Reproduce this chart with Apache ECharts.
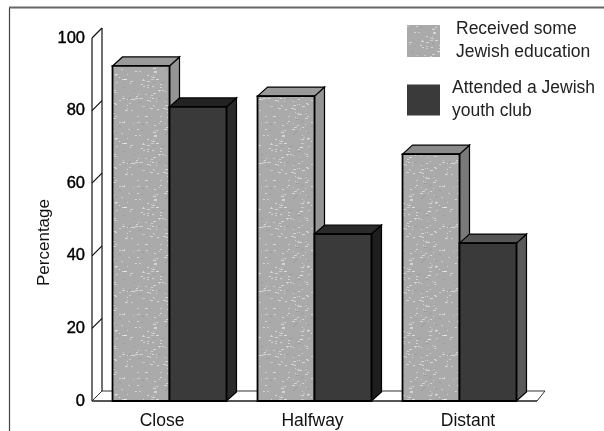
<!DOCTYPE html>
<html><head><meta charset="utf-8">
<style>html,body{margin:0;padding:0;background:#fff}#c{width:604px;height:431px;filter:blur(0.45px)}</style>
<script src="https://cdn.jsdelivr.net/npm/echarts@6/dist/echarts.min.js"></script>
</head><body><div id="c"></div>
<script>
var categories = ['Close', 'Halfway', 'Distant'];
var educationName = 'Received some\nJewish education';
var clubName = 'Attended a Jewish\nyouth club';
var educationValues = [92.3, 84, 68];
var clubValues = [81, 46, 43.5];
var yTicks = [0, 20, 40, 60, 80, 100];

// fixed speckle texture for the light bars (styling only, not data)
function speckle(base) {
  var cv = document.createElement('canvas');
  cv.width = 64; cv.height = 64;
  var g = cv.getContext('2d');
  g.fillStyle = base; g.fillRect(0, 0, 64, 64);
  var s = 12345;
  function r() { s = (s * 1103515 + 12345) % 2147483648; return s / 2147483648; }
  for (var i = 0; i < 150; i++) {
    var v = r();
    g.fillStyle = v < 0.5 ? 'rgba(255,255,255,0.5)' : (v < 0.8 ? 'rgba(225,225,225,0.55)' : 'rgba(140,140,140,0.45)');
    g.fillRect(Math.floor(r() * 64), Math.floor(r() * 64), 1 + Math.floor(r() * 3), 1);
  }
  return cv;
}
var lightPattern = { image: speckle('#aaaaaa'), repeat: 'repeat' };
var DX = 10, DY = 9, BAR = 0.393;
var lightSide = ['#959595', '#959595', '#7a7a7a'];
var darkSide = ['#2a2a2a', '#1e1e1e', '#5a5a5a'];
var darkTop = ['#222222', '#2a2a2a', '#555555'];

function poly(pts, fill, stroke, lw) {
  return { type: 'polygon', shape: { points: pts }, style: { fill: fill, stroke: stroke || '#000', lineWidth: lw === undefined ? 1.2 : lw } };
}
function bar3d(off, front, sideCols, topCols) {
  return function (params, api) {
    var i = api.value(0);
    var top = api.coord([i, api.value(1)]);
    var base = api.coord([i, 0]);
    var w = api.size([1, 0])[0] * BAR;
    var l = top[0] + off * w, r = l + w, t = top[1], b = base[1];
    return { type: 'group', children: [
      poly([[r, t], [r + DX, t - DY], [r + DX, b - DY], [r, b]], sideCols[i]),
      poly([[l, t], [l + DX, t - DY], [r + DX, t - DY], [r, t]], topCols[i]),
      poly([[l, t], [r, t], [r, b], [l, b]], front, '#000', 1.8)
    ] };
  };
}
var chart = echarts.init(document.getElementById('c'), null, { renderer: 'canvas' });
var legendText = { fontFamily: 'Liberation Sans', fontSize: 17.5, lineHeight: 23, color: '#222' };
chart.setOption({
  animation: false,
  backgroundColor: '#fff',
  grid: { left: 97, right: 72, top: 38, bottom: 30 },
  legend: [
    { data: [educationName], orient: 'vertical', left: 402, top: 13, itemWidth: 33, itemHeight: 32, icon: 'rect', selectedMode: false,
      textStyle: Object.assign({}, legendText, { padding: [0, 0, 0, 11] }) },
    { data: [clubName], orient: 'vertical', left: 402, top: 72, itemWidth: 33, itemHeight: 31, icon: 'rect', selectedMode: false,
      textStyle: Object.assign({}, legendText, { padding: [0, 0, 0, 7] }) }
  ],
  xAxis: { type: 'category', data: [
      { value: categories[0], textStyle: { padding: [0, 15, 0, 0] } },
      { value: categories[1], textStyle: { padding: [0, 4, 0, 0] } },
      { value: categories[2], textStyle: { padding: [0, 0, 0, 17] } }
    ],
    axisLine: { show: false }, axisTick: { show: false },
    axisLabel: { margin: 11, fontFamily: 'Liberation Sans', fontSize: 17.5, color: '#111' } },
  yAxis: { type: 'value', min: 0, max: 100, interval: 20,
    name: 'Percentage', nameLocation: 'middle', nameGap: 44, nameRotate: 90, nameMoveOverlap: false,
    nameTextStyle: { fontFamily: 'Liberation Sans', fontSize: 17, color: '#111', padding: [0, 46, 0, 0] },
    axisLine: { show: false }, axisTick: { show: false }, splitLine: { show: false },
    axisLabel: { margin: 12, fontFamily: 'Liberation Sans', fontSize: 16.5, color: '#000',
      textBorderColor: '#000', textBorderWidth: 0.4 } },
  series: [
    { type: 'custom', silent: true, z: 1, data: yTicks.map(function (v) { return [v]; }),
      encode: { x: -1, y: 0 },
      renderItem: function (params, api) {
        var y = api.coord([0, api.value(0)])[1];
        var cs = params.coordSys;
        var x0 = cs.x - 5, x1 = x0 + DX, right = cs.x + cs.width + 5;
        var kids = [];
        if (api.value(0) === 0) {
          kids.push(poly([[x0, y], [x1, y - DY - 1], [right + DX - 2, y - DY - 1], [right, y]], '#fff', '#333', 1));
          kids.push({ type: 'line', shape: { x1: x0, y1: y, x2: right, y2: y }, style: { stroke: '#555', lineWidth: 2 } });
        } else {
          kids.push({ type: 'line', shape: { x1: x0, y1: y, x2: x1, y2: y - DY - 1 }, style: { stroke: '#111', lineWidth: 1.2 } });
        }
        if (api.value(0) === 100) {
          var b = api.coord([0, 0])[1];
          kids.push({ type: 'line', shape: { x1: x0, y1: y, x2: x0, y2: b }, style: { stroke: '#111', lineWidth: 1.2 } });
          kids.push({ type: 'line', shape: { x1: x1, y1: y - DY - 1, x2: x1, y2: b - DY - 1 }, style: { stroke: '#111', lineWidth: 1.2 } });
        }
        return { type: 'group', children: kids };
      } },
    { type: 'custom', name: educationName, z: 2, silent: true, itemStyle: { color: lightPattern, borderColor: '#777' },
      data: educationValues.map(function (v, i) { return [i, v]; }), encode: { x: 0, y: 1 },
      renderItem: bar3d(-1, lightPattern, lightSide, ['#9a9a9a', '#9a9a9a', '#8a8a8a']) },
    { type: 'custom', name: clubName, z: 3, silent: true, itemStyle: { color: '#3a3a3a', borderColor: '#111' },
      data: clubValues.map(function (v, i) { return [i, v]; }), encode: { x: 0, y: 1 },
      renderItem: bar3d(0, '#3a3a3a', darkSide, darkTop) }
  ],
  graphic: [
    { type: 'line', shape: { x1: 9.5, y1: 7.5, x2: 9.5, y2: 431 }, style: { stroke: '#444', lineWidth: 1.2 } },
    { type: 'line', shape: { x1: 9, y1: 7.5, x2: 604, y2: 7.5 }, style: { stroke: '#666', lineWidth: 2 } }
  ]
});
</script></body></html>
